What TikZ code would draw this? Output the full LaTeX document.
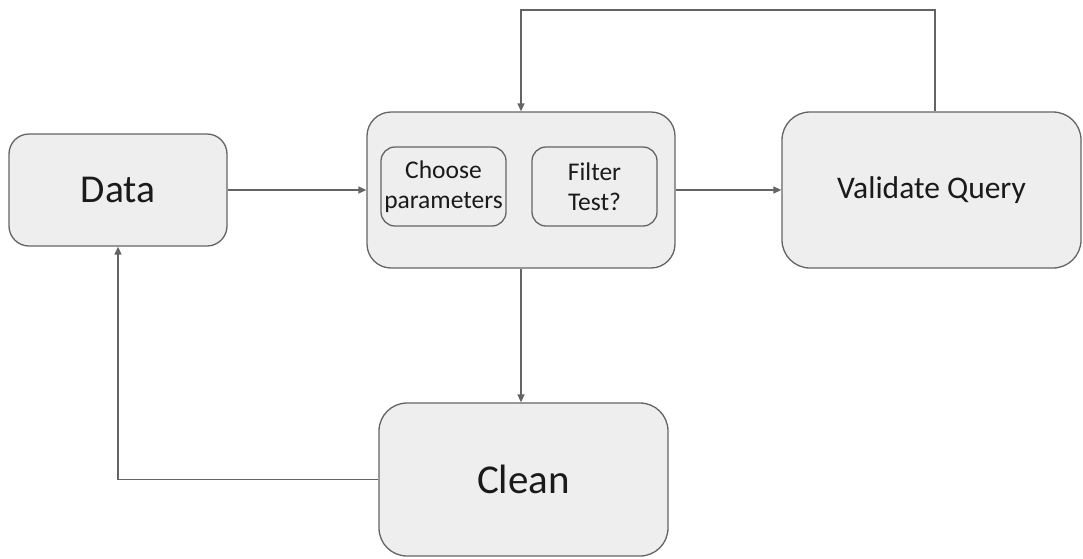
\documentclass[tikz,border=0pt]{standalone}
\usepackage{fontspec}
\setmainfont{Carlito}
\usetikzlibrary{arrows.meta}
\definecolor{boxfill}{HTML}{EEEEEE}
\definecolor{boxline}{HTML}{646464}
\definecolor{txt}{HTML}{1A1A1A}
\begin{document}
\begin{tikzpicture}[x=1pt,y=-1pt,
  blk/.style={draw=boxline, fill=boxfill, line width=1.3pt, rounded corners=#1,
    inner sep=0pt, text=txt, align=center},
  blk/.default=20pt,
  conn/.style={draw=boxline, line width=1.3pt},
  arr/.style={conn, -{Triangle[length=8pt,width=7pt]}}]
\useasboundingbox (0,0) rectangle (1083,558);
\node[blk=20pt, minimum width=218pt, minimum height=112pt, font=\fontsize{39.5}{42}\selectfont] (data) at (118,190) {Data};
\node[blk=24pt, minimum width=308pt, minimum height=156pt] (mid) at (521,190) {};
\node[blk=14pt, minimum width=125pt, minimum height=79pt, font=\fontsize{25.5}{30.5}\selectfont] (choose) at (443.5,186.5) {Choose\\parameters};
\node[blk=14pt, minimum width=125pt, minimum height=79pt, font=\fontsize{25.5}{30.5}\selectfont] (filter) at (594.5,186.5) {Filter\\Test?};
\node[blk=28pt, minimum width=299pt, minimum height=156pt, font=\fontsize{31.5}{34}\selectfont] (val) at (931.5,190) {Validate Query};
\node[blk=28pt, minimum width=289pt, minimum height=153pt, font=\fontsize{41}{44}\selectfont] (clean) at (523.5,479.5) {Clean};
\coordinate (vtop) at ([xshift=3.5pt]val.north);
\coordinate (topy) at (935,10);
\draw[arr] (data.east) -- (mid.west);
\draw[arr] (mid.east) -- (val.west);
\draw[arr] (vtop) -- (vtop |- topy) -| (mid.north);
\draw[arr] (mid.south) -- (mid.south |- clean.north);
\draw[arr] (clean.west) -| (data.south);
\end{tikzpicture}
\end{document}
